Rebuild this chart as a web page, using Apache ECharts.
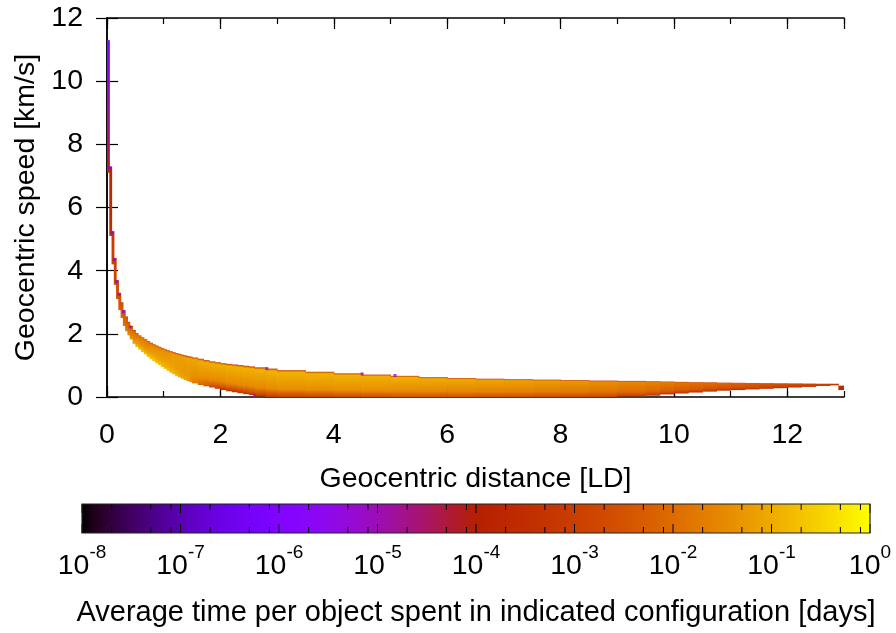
<!DOCTYPE html>
<html>
<head>
<meta charset="utf-8">
<script src="https://cdn.jsdelivr.net/npm/echarts@6/dist/echarts.min.js"></script>
<style>
  html, body { margin: 0; padding: 0; background: #ffffff; }
  #chart { width: 896px; height: 633px; }
</style>
</head>
<body>
<div id="chart"></div>
<script>
// Distance bins [LD]: column i spans distEdges[i] .. distEdges[i+1]
const distEdges = [
  0, 0.04, 0.08, 0.12, 0.16, 0.2, 0.24, 0.28, 0.32, 0.36, 0.4, 0.45, 0.5,
  0.55, 0.6, 0.65, 0.7, 0.75, 0.8, 0.85, 0.9, 0.95, 1.0, 1.05, 1.1, 1.15, 1.2,
  1.25, 1.3, 1.35, 1.4, 1.45, 1.5,
  1.6, 1.7, 1.8, 1.9, 2.0, 2.1, 2.2, 2.3, 2.4, 2.5, 2.6,
  2.8, 3.0,
  3.5, 4.0, 4.5, 5.0, 5.5, 6.0, 6.5, 7.0, 7.5, 8.0, 8.5, 9.0, 9.5,
  9.75, 10.0, 10.25, 10.5, 10.75, 11.0, 11.25, 11.5, 11.75, 12.0, 12.25, 12.5, 12.75,
  12.9, 13.0
];

// Highest and lowest occupied geocentric speed in each distance bin [km/s]
const speedTop = [
  11.3, 7.3, 5.25, 4.4, 3.7, 3.3, 3.0, 2.75, 2.55, 2.38, 2.25, 2.12,
  2.02, 1.95, 1.89, 1.83, 1.77, 1.72, 1.67, 1.63, 1.59, 1.55, 1.51, 1.48, 1.45, 1.42,
  1.39, 1.37, 1.34, 1.32, 1.30, 1.28,
  1.25, 1.21, 1.17, 1.13, 1.10, 1.07, 1.05, 1.03, 1.01, 0.99, 0.97,
  0.94, 0.9,
  0.85, 0.8, 0.75, 0.71, 0.67, 0.63, 0.6, 0.58, 0.565, 0.55, 0.535, 0.52, 0.51,
  0.5, 0.49, 0.48, 0.47, 0.465, 0.455, 0.45, 0.445, 0.44, 0.435, 0.43, 0.425, 0.42,
  0.42, 0.36
];
const speedBottom = [
  7.1, 5.1, 4.2, 3.55, 3.1, 2.75, 2.5, 2.25, 2.08, 1.95, 1.82, 1.68,
  1.58, 1.50, 1.42, 1.35, 1.27, 1.20, 1.13, 1.07, 1.01, 0.95, 0.89, 0.83, 0.77, 0.72,
  0.67, 0.62, 0.58, 0.54, 0.50, 0.47,
  0.43, 0.38, 0.34, 0.30, 0.26, 0.22, 0.18, 0.15, 0.12, 0.09, 0.06,
  0.02, 0,
  0, 0, 0, 0, 0, 0, 0, 0, 0, 0, 0, 0, 0.02,
  0.04, 0.08, 0.11, 0.14, 0.17, 0.2, 0.22, 0.24, 0.26, 0.28, 0.3, 0.32, 0.35,
  0.37, 0.22
];

// Average time per object, log10(days): at the upper edge, upper interior,
// lower interior and lower edge of each distance bin
const logDaysTop = [
  -6.0, -3.9, -3.6, -3.5, -3.4, -3.4, -3.3, -3.3, -3.3, -3.3, -3.3, -3.3,
  -3.3, -3.3, -3.2, -3.2, -3.2, -3.2, -3.2, -3.2, -3.2, -3.2, -3.2, -3.2, -3.1, -3.1,
  -3.1, -3.1, -3.1, -3.1, -3.1, -3.1,
  -3.0, -3.0, -3.0, -3.0, -3.0, -3.0, -3.0, -3.0, -3.0, -3.0, -3.0,
  -3.0, -3.0,
  -2.9, -2.9, -2.9, -2.9, -2.9, -2.9, -2.9, -2.9, -2.9, -2.9, -2.9, -3.0, -3.0,
  -3.0, -3.0, -3.0, -3.0, -3.1, -3.1, -3.1, -3.2, -3.2, -3.2, -3.3, -3.3, -3.4,
  -3.5, -3.6
];
const logDaysUpper = [
  -5.9, -3.7, -3.2, -3.0, -2.8, -2.7, -2.6, -2.5, -2.4, -2.3, -2.2, -2.05,
  -1.9, -1.85, -1.8, -1.75, -1.7, -1.65, -1.6, -1.55, -1.5, -1.45, -1.4, -1.35, -1.3, -1.25,
  -1.2, -1.2, -1.15, -1.15, -1.1, -1.1,
  -1.05, -1.0, -1.0, -0.95, -0.95, -0.95, -0.9, -0.9, -0.9, -0.9, -0.9,
  -0.9, -0.9,
  -0.9, -0.9, -0.9, -0.95, -0.95, -1.0, -1.05, -1.1, -1.15, -1.2, -1.3, -1.4, -1.5,
  -1.6, -1.7, -1.8, -1.9, -2.0, -2.1, -2.2, -2.3, -2.4, -2.5, -2.6, -2.7, -2.8,
  -3.1, -3.4
];
const logDaysLower = [
  -4.7, -3.6, -3.0, -2.8, -2.6, -2.4, -2.3, -2.1, -2.0, -1.8, -1.6, -1.45,
  -1.3, -1.25, -1.2, -1.2, -1.15, -1.1, -1.1, -1.1, -1.1, -1.1, -1.1, -1.1, -1.15, -1.15,
  -1.2, -1.2, -1.25, -1.3, -1.3, -1.35,
  -1.4, -1.4, -1.45, -1.45, -1.5, -1.5, -1.5, -1.5, -1.5, -1.5, -1.5,
  -1.5, -1.45,
  -1.4, -1.4, -1.4, -1.4, -1.45, -1.5, -1.55, -1.6, -1.65, -1.7, -1.8, -1.9, -2.0,
  -2.1, -2.2, -2.3, -2.4, -2.5, -2.55, -2.6, -2.7, -2.8, -2.9, -3.0, -3.1, -3.2,
  -3.3, -3.6
];
const logDaysBottom = [
  -4.0, -3.4, -2.9, -2.6, -2.4, -2.2, -2.0, -1.8, -1.5, -1.3, -1.1, -0.9,
  -0.7, -0.65, -0.6, -0.6, -0.6, -0.6, -0.6, -0.6, -0.65, -0.65, -0.7, -0.7, -0.75, -0.8,
  -0.85, -0.9, -1.0, -1.1, -1.2, -1.4,
  -1.7, -2.1, -2.5, -2.9, -3.2, -3.4, -3.4, -3.4, -3.4, -3.4, -3.3,
  -3.3, -3.2,
  -3.0, -2.9, -2.8, -2.7, -2.6, -2.6, -2.6, -2.7, -2.7, -2.8, -2.9, -3.0, -3.1,
  -3.2, -3.3, -3.4, -3.5, -3.5, -3.6, -3.6, -3.7, -3.7, -3.7, -3.8, -3.8, -3.8,
  -3.8, -3.8
];

// Isolated rarely-visited cells: [distance LD, speed km/s, log10(days)]
const sparseCells = [
  [0.05, 7.25, -6.0], [0.09, 5.2, -6.0], [0.13, 4.35, -6.0], [0.17, 3.65, -5.8],
  [0.21, 3.25, -5.6], [0.29, 2.7, -5.5], [0.41, 2.22, -5.2], [2.82, 0.9, -5.0],
  [4.5, 0.73, -4.6], [5.08, 0.68, -5.0], [2.6, 0.04, -5.0]
];

// Colour scale decades (log10 days) and minor marks within each decade
const colorbarDecades = [-8, -7, -6, -5, -4, -3, -2, -1, 0];
const colorbarMinor = [2, 5, 8];

const FONT = 'Liberation Sans, Arial, Helvetica, sans-serif';
const LOG_MIN = -8, LOG_MAX = 0;

// gnuplot-like default pm3d palette (rgbformulae 7,5,15)
function palette(t) {
  t = Math.max(0, Math.min(1, t));
  const r = Math.sqrt(t);
  const g = t * t * t;
  const b = Math.max(0, Math.sin(2 * Math.PI * t));
  return 'rgb(' + Math.round(255 * r) + ',' + Math.round(255 * g) + ',' + Math.round(255 * b) + ')';
}
function colorOf(logDays) {
  return palette((logDays - LOG_MIN) / (LOG_MAX - LOG_MIN));
}

const columnData = speedTop.map((top, i) => [distEdges[i], distEdges[i + 1], speedBottom[i], top, i]);

function renderColumn(params, api) {
  const i = api.value(4);
  const pTL = api.coord([api.value(0), api.value(3)]);
  const pBR = api.coord([api.value(1), api.value(2)]);
  return {
    type: 'rect',
    shape: { x: pTL[0], y: pTL[1], width: pBR[0] - pTL[0] + 0.6, height: pBR[1] - pTL[1] },
    style: {
      fill: {
        type: 'linear', x: 0, y: 0, x2: 0, y2: 1,
        colorStops: [
          { offset: 0, color: colorOf(logDaysTop[i]) },
          { offset: 0.08, color: colorOf(logDaysUpper[i]) },
          { offset: 0.7, color: colorOf(logDaysLower[i]) },
          { offset: 1, color: colorOf(logDaysBottom[i]) }
        ]
      }
    }
  };
}

// Colour bar: gradient strip, frame and tick marks
function renderColorbar(params, api) {
  const left = api.coord([LOG_MIN, 1]);
  const right = api.coord([LOG_MAX, 0]);
  const x0 = left[0], y0 = left[1], x1 = right[0], y1 = right[1];
  const stops = [];
  for (let k = 0; k <= 64; k++) {
    stops.push({ offset: k / 64, color: palette(k / 64) });
  }
  const children = [{
    type: 'rect',
    shape: { x: x0, y: y0, width: x1 - x0, height: y1 - y0 },
    style: { fill: { type: 'linear', x: 0, y: 0, x2: 1, y2: 0, colorStops: stops }, stroke: null }
  }];
  const tick = (v, len) => {
    const x = api.coord([v, 0])[0];
    children.push({ type: 'line', shape: { x1: x, y1: y0, x2: x, y2: y0 + len }, style: { stroke: '#000', lineWidth: 1 } });
    children.push({ type: 'line', shape: { x1: x, y1: y1, x2: x, y2: y1 - len }, style: { stroke: '#000', lineWidth: 1 } });
  };
  colorbarDecades.forEach((d, k) => {
    tick(d, 9);
    if (k < colorbarDecades.length - 1) {
      colorbarMinor.forEach(m => tick(d + Math.log10(m), 6));
    }
  });
  children.push({
    type: 'rect',
    shape: { x: x0, y: y0, width: x1 - x0, height: y1 - y0 },
    style: { fill: null, stroke: '#222', lineWidth: 1.2 }
  });
  return { type: 'group', children: children };
}

const frameLine = { show: true, lineStyle: { color: '#000', width: 1.5 } };
const labelStyle = { color: '#000', fontFamily: FONT, fontSize: 28.5 };

const chart = echarts.init(document.getElementById('chart'), null, { renderer: 'canvas' });
chart.setOption({
  animation: false,
  backgroundColor: '#ffffff',
  grid: [
    { left: 107, top: 18, right: 52, bottom: 236, containLabel: false, outerBoundsMode: 'none' },
    { left: 82, top: 504, width: 788, height: 29, containLabel: false, outerBoundsMode: 'none' }
  ],
  xAxis: [
    {
      gridIndex: 0, type: 'value', position: 'bottom', min: 0, max: 13, interval: 2,
      axisLine: frameLine,
      axisTick: { show: true, inside: true, length: 11, lineStyle: { color: '#000', width: 1.2 } },
      axisLabel: Object.assign({ margin: 24, showMaxLabel: false }, labelStyle),
      splitLine: { show: false },
      name: 'Geocentric distance [LD]', nameLocation: 'middle', nameGap: 68,
      nameTextStyle: labelStyle
    },
    {
      gridIndex: 0, type: 'value', position: 'bottom', min: 0, max: 13, interval: 1,
      axisLine: { show: false },
      axisTick: { show: true, inside: true, length: 6, lineStyle: { color: '#000', width: 1.2 } },
      axisLabel: { show: false }, splitLine: { show: false }
    },
    {
      gridIndex: 0, type: 'value', position: 'top', min: 0, max: 13, interval: 2,
      axisLine: frameLine,
      axisTick: { show: true, inside: true, length: 11, lineStyle: { color: '#000', width: 1.2 } },
      axisLabel: { show: false }, splitLine: { show: false }
    },
    {
      gridIndex: 0, type: 'value', position: 'top', min: 0, max: 13, interval: 1,
      axisLine: { show: false },
      axisTick: { show: true, inside: true, length: 6, lineStyle: { color: '#000', width: 1.2 } },
      axisLabel: { show: false }, splitLine: { show: false }
    },
    {
      gridIndex: 1, type: 'value', position: 'bottom', min: LOG_MIN, max: LOG_MAX, interval: 1,
      axisLine: { show: false }, axisTick: { show: false }, splitLine: { show: false },
      axisLabel: {
        margin: 10,
        formatter: v => '{b|10}{s|' + v + '}',
        rich: {
          b: { fontFamily: FONT, fontSize: 28.5, color: '#000', verticalAlign: 'bottom', lineHeight: 38 },
          s: { fontFamily: FONT, fontSize: 19, color: '#000', verticalAlign: 'top', lineHeight: 20 }
        }
      },
      name: 'Average time per object spent in indicated configuration [days]',
      nameLocation: 'middle', nameGap: 65,
      nameTextStyle: { color: '#000', fontFamily: FONT, fontSize: 29 }
    }
  ],
  yAxis: [
    {
      gridIndex: 0, type: 'value', position: 'left', min: 0, max: 12, interval: 2,
      axisLine: frameLine,
      axisTick: { show: true, inside: true, length: 11, lineStyle: { color: '#000', width: 1.2 } },
      axisLabel: Object.assign({ margin: 24 }, labelStyle),
      splitLine: { show: false },
      name: 'Geocentric speed [km/s]', nameLocation: 'middle', nameRotate: 90, nameGap: 57,
      nameTextStyle: labelStyle
    },
    {
      gridIndex: 0, type: 'value', position: 'right', min: 0, max: 12, interval: 2,
      axisLine: frameLine,
      axisTick: { show: true, inside: true, length: 11, lineStyle: { color: '#000', width: 1.2 } },
      axisLabel: { show: false }, splitLine: { show: false }
    },
    { gridIndex: 1, type: 'value', min: 0, max: 1, show: false }
  ],
  series: [
    {
      type: 'custom', xAxisIndex: 0, yAxisIndex: 0, clip: true,
      renderItem: renderColumn,
      encode: { x: [0, 1], y: [2, 3] },
      data: columnData, silent: true, z: 2
    },
    {
      type: 'scatter', xAxisIndex: 0, yAxisIndex: 0, clip: true,
      symbol: 'rect', symbolSize: 3, silent: true, z: 3,
      itemStyle: { color: p => colorOf(p.value[2]) },
      data: sparseCells
    },
    {
      type: 'custom', xAxisIndex: 4, yAxisIndex: 2, clip: false,
      renderItem: renderColorbar,
      data: [[LOG_MIN, 0]], silent: true
    }
  ]
});
</script>
</body>
</html>
